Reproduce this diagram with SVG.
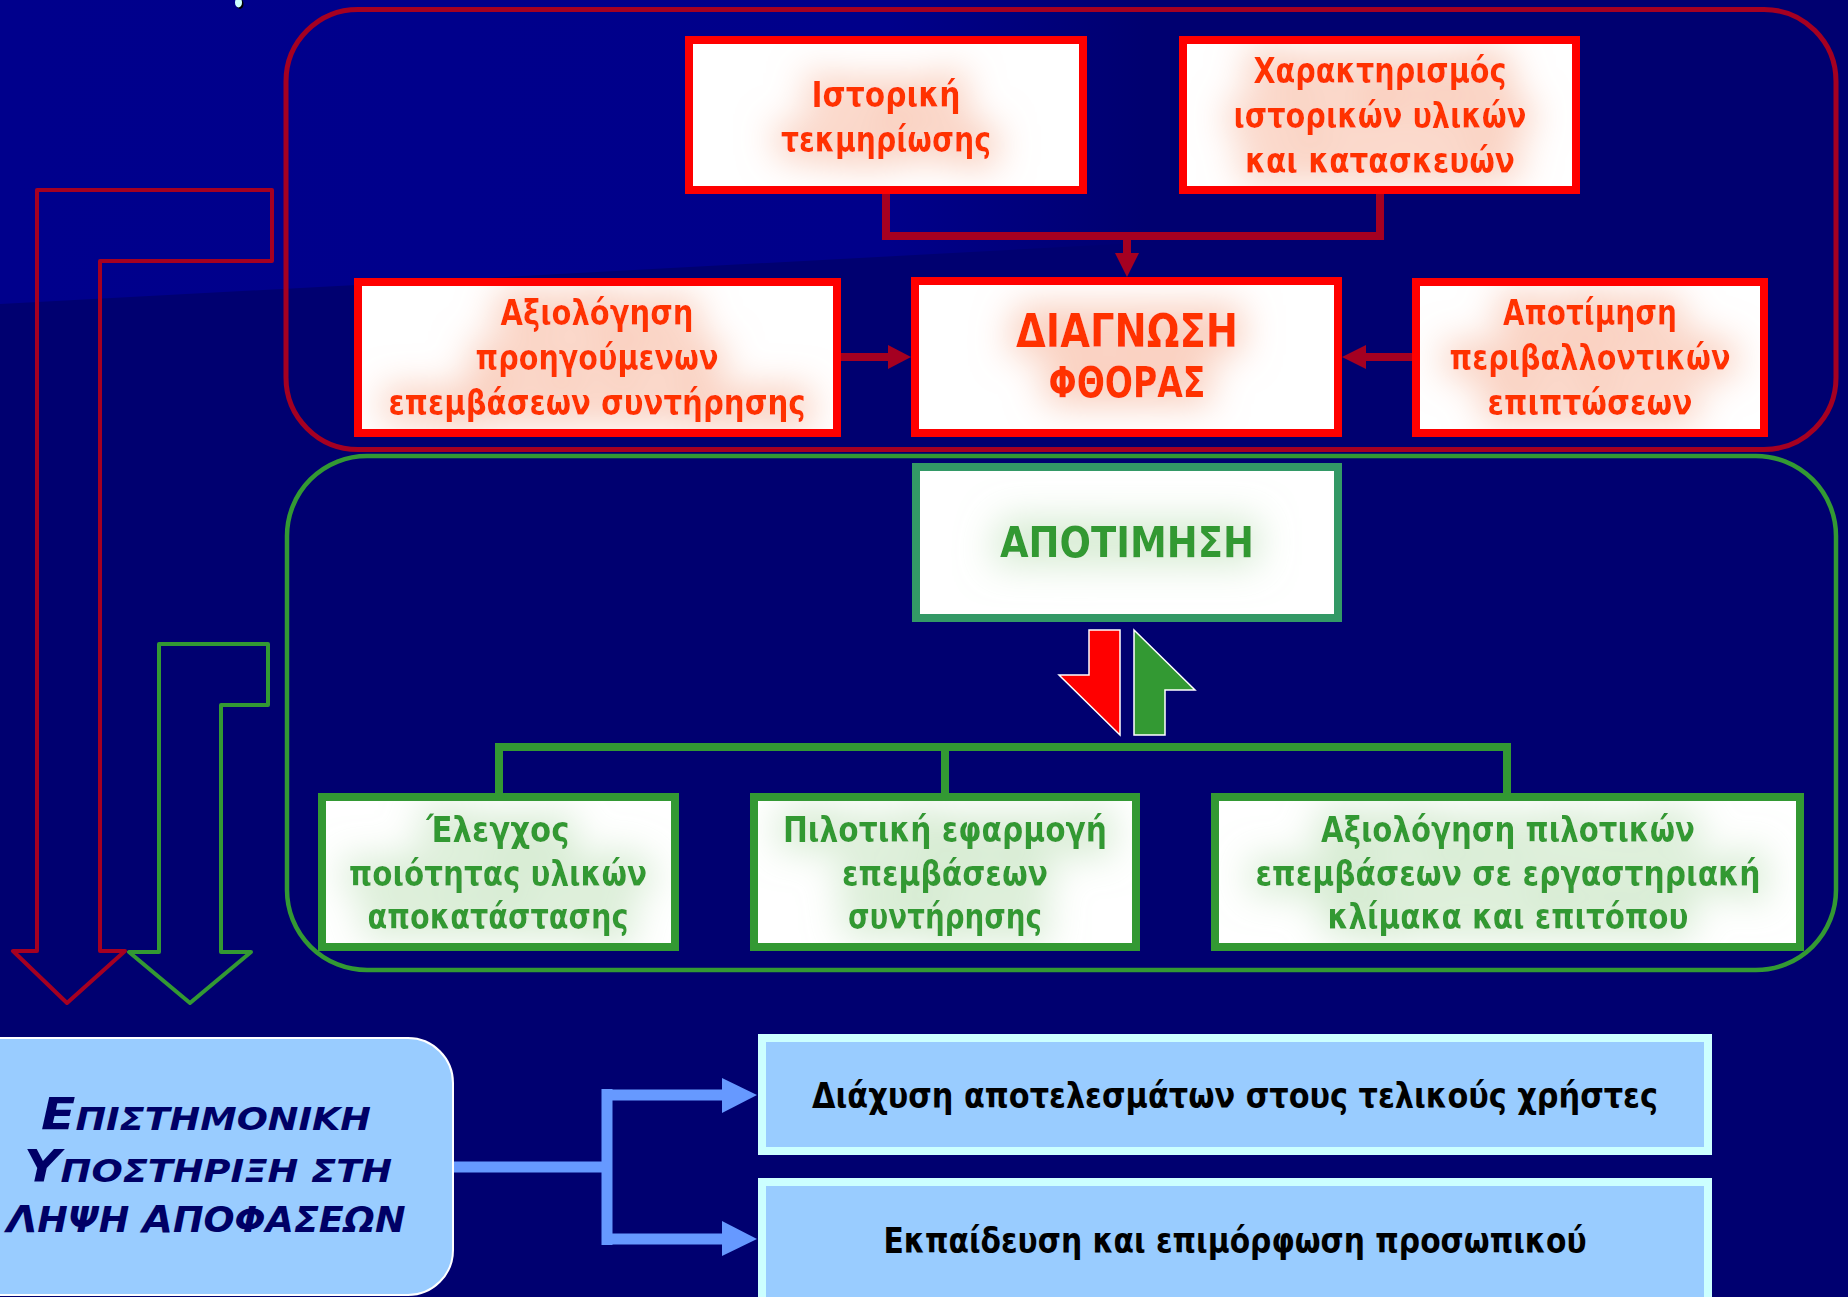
<svg xmlns="http://www.w3.org/2000/svg" width="1848" height="1297" viewBox="0 0 1848 1297">
<defs>
<linearGradient id="bgTop" x1="0" y1="0" x2="1848" y2="0" gradientUnits="userSpaceOnUse">
<stop offset="0" stop-color="#00008C"/>
<stop offset="0.48" stop-color="#00008A"/>
<stop offset="0.62" stop-color="#000070"/>
</linearGradient>
<filter id="haloR" x="-30%" y="-100%" width="160%" height="300%">
<feMorphology in="SourceAlpha" operator="dilate" radius="8" result="d"/>
<feGaussianBlur in="d" stdDeviation="18" result="b"/>
<feFlood flood-color="#F8C3AE" flood-opacity="0.8"/>
<feComposite in2="b" operator="in" result="g"/>
<feMerge><feMergeNode in="g"/><feMergeNode in="SourceGraphic"/></feMerge>
</filter>
<filter id="haloG" x="-30%" y="-100%" width="160%" height="300%">
<feMorphology in="SourceAlpha" operator="dilate" radius="8" result="d"/>
<feGaussianBlur in="d" stdDeviation="18" result="b"/>
<feFlood flood-color="#CDE7C8" flood-opacity="0.8"/>
<feComposite in2="b" operator="in" result="g"/>
<feMerge><feMergeNode in="g"/><feMergeNode in="SourceGraphic"/></feMerge>
</filter>
<clipPath id="cA"><rect x="693" y="44" width="386" height="142"/></clipPath>
<clipPath id="cB"><rect x="1187" y="44" width="385" height="142"/></clipPath>
<clipPath id="cC"><rect x="919" y="285" width="415" height="144"/></clipPath>
<clipPath id="cD"><rect x="362" y="286" width="471" height="143"/></clipPath>
<clipPath id="cE"><rect x="1420" y="286" width="340" height="143"/></clipPath>
<clipPath id="cP"><rect x="920" y="471" width="414" height="143"/></clipPath>
<clipPath id="cF"><rect x="326" y="801" width="345" height="142"/></clipPath>
<clipPath id="cG"><rect x="758" y="801" width="374" height="142"/></clipPath>
<clipPath id="cH"><rect x="1219" y="801" width="577" height="142"/></clipPath>
<style>
.rbox{fill:#FFFFFF;stroke:#FF0000;stroke-width:8}
.gbox{fill:#FFFFFF;stroke:#339933;stroke-width:8}
.bbox{fill:#99CCFF;stroke:#CCFFFF;stroke-width:8}
.t{font-family:"DejaVu Sans","Liberation Sans",sans-serif;font-weight:bold;font-stretch:condensed;text-anchor:middle}
.tr{fill:#FF3300;font-size:35px}
.tg{fill:#339933;font-size:35px}
.tk{fill:#000000;font-size:36px}
.tn{fill:#000066;font-style:italic}
.redc{fill:none;stroke:#A50021;stroke-width:8}
.grnc{fill:none;stroke:#339933;stroke-width:8}
.bluc{fill:none;stroke:#6699FF;stroke-width:11}
</style>
</defs>

<!-- background -->
<rect x="0" y="0" width="1848" height="1297" fill="#000070"/>
<polygon points="0,0 1848,0 1848,205 0,304" fill="url(#bgTop)"/>
<ellipse cx="240" cy="4" rx="3.5" ry="5" fill="#000000"/>
<ellipse cx="238.5" cy="2.5" rx="3.5" ry="5" fill="#CCFFFF"/>

<!-- containers -->
<g id="container-red">
<rect x="286" y="9.5" width="1550" height="440" rx="72" ry="72" fill="none" stroke="#A50021" stroke-width="5"/>
</g>
<g id="container-green">
<rect x="287" y="456" width="1549" height="514" rx="80" ry="80" fill="none" stroke="#339933" stroke-width="4.5"/>
</g>

<!-- connectors -->
<g id="connectors">
<path class="redc" d="M886,194 V236 H1380 V194"/>
<path class="redc" d="M1127,236 V255"/>
<polygon points="1115,253 1139,253 1127,277" fill="#A50021"/>
<path class="redc" d="M841,357 H890"/>
<polygon points="888,345 911,357 888,369" fill="#A50021"/>
<path class="redc" d="M1412,357 H1364"/>
<polygon points="1366,345 1342,357 1366,369" fill="#A50021"/>
<path class="grnc" d="M499,793 V747 H1507 V793 M945,747 V793"/>
<polygon points="1089,630 1120,630 1120,735 1059,675 1089,675" fill="#FF0000" stroke="#FFFFFF" stroke-width="1.5"/>
<polygon points="1134,630 1195,690 1165,690 1165,735 1134,735" fill="#339933" stroke="#FFFFFF" stroke-width="1.5"/>
<path d="M37,190 H272 V261 H100 V951 H125 L67,1003 L13,951 H37 Z" fill="none" stroke="#A50021" stroke-width="4" stroke-linejoin="round"/>
<path d="M159,644 H268 V705 H221 V952 H251 L190,1003 L129,952 H159 Z" fill="none" stroke="#339933" stroke-width="4" stroke-linejoin="round"/>
<path class="bluc" d="M453,1167 H607 M607,1089 V1245 M602,1095 H724 M602,1239 H724"/>
<polygon points="722,1078 757,1095 722,1113" fill="#6699FF"/>
<polygon points="722,1221 757,1239 722,1256" fill="#6699FF"/>
</g>

<!-- nodes -->
<g id="node-istoriki">
<rect class="rbox" x="689" y="40" width="394" height="150"/>
<g filter="url(#haloR)" clip-path="url(#cA)">
<text class="t tr" x="886" y="107" textLength="149" lengthAdjust="spacingAndGlyphs">Ιστορική</text>
<text class="t tr" x="886" y="152" textLength="210" lengthAdjust="spacingAndGlyphs">τεκμηρίωσης</text>
</g>
</g>

<g id="node-xaraktirismos">
<rect class="rbox" x="1183" y="40" width="393" height="150"/>
<g filter="url(#haloR)" clip-path="url(#cB)">
<text class="t tr" x="1380" y="83" textLength="253" lengthAdjust="spacingAndGlyphs">Χαρακτηρισμός</text>
<text class="t tr" x="1380" y="128" textLength="293" lengthAdjust="spacingAndGlyphs">ιστορικών υλικών</text>
<text class="t tr" x="1380" y="173" textLength="270" lengthAdjust="spacingAndGlyphs">και κατασκευών</text>
</g>
</g>

<g id="node-diagnosi">
<rect class="rbox" x="915" y="281" width="423" height="152"/>
<g filter="url(#haloR)" clip-path="url(#cC)">
<text class="t tr" x="1127" y="347" style="font-size:46px" textLength="222" lengthAdjust="spacingAndGlyphs">ΔΙΑΓΝΩΣΗ</text>
<text class="t tr" x="1127" y="397" style="font-size:42px" textLength="157" lengthAdjust="spacingAndGlyphs">ΦΘΟΡΑΣ</text>
</g>
</g>

<g id="node-axiologisi-proigoumenon">
<rect class="rbox" x="358" y="282" width="479" height="151"/>
<g filter="url(#haloR)" clip-path="url(#cD)">
<text class="t tr" x="597" y="325" textLength="193" lengthAdjust="spacingAndGlyphs">Αξιολόγηση</text>
<text class="t tr" x="597" y="370" textLength="243" lengthAdjust="spacingAndGlyphs">προηγούμενων</text>
<text class="t tr" x="597" y="415" textLength="417" lengthAdjust="spacingAndGlyphs">επεμβάσεων συντήρησης</text>
</g>
</g>

<g id="node-apotimisi-perivallontikon">
<rect class="rbox" x="1416" y="282" width="348" height="151"/>
<g filter="url(#haloR)" clip-path="url(#cE)">
<text class="t tr" x="1590" y="325" textLength="174" lengthAdjust="spacingAndGlyphs">Αποτίμηση</text>
<text class="t tr" x="1590" y="370" textLength="281" lengthAdjust="spacingAndGlyphs">περιβαλλοντικών</text>
<text class="t tr" x="1590" y="415" textLength="205" lengthAdjust="spacingAndGlyphs">επιπτώσεων</text>
</g>
</g>

<g id="node-apotimisi">
<rect x="916" y="467" width="422" height="151" fill="#FFFFFF" stroke="#339966" stroke-width="8"/>
<g filter="url(#haloG)" clip-path="url(#cP)">
<text class="t tg" x="1127" y="557" style="font-size:42px" textLength="254" lengthAdjust="spacingAndGlyphs">ΑΠΟΤΙΜΗΣΗ</text>
</g>
</g>

<g id="node-elegxos">
<rect class="gbox" x="322" y="797" width="353" height="150"/>
<g filter="url(#haloG)" clip-path="url(#cF)">
<text class="t tg" x="498" y="842" textLength="143" lengthAdjust="spacingAndGlyphs">Έλεγχος</text>
<text class="t tg" x="498" y="886" textLength="298" lengthAdjust="spacingAndGlyphs">ποιότητας υλικών</text>
<text class="t tg" x="498" y="929" textLength="261" lengthAdjust="spacingAndGlyphs">αποκατάστασης</text>
</g>
</g>

<g id="node-pilotiki">
<rect class="gbox" x="754" y="797" width="382" height="150"/>
<g filter="url(#haloG)" clip-path="url(#cG)">
<text class="t tg" x="945" y="842" textLength="324" lengthAdjust="spacingAndGlyphs">Πιλοτική εφαρμογή</text>
<text class="t tg" x="945" y="886" textLength="206" lengthAdjust="spacingAndGlyphs">επεμβάσεων</text>
<text class="t tg" x="945" y="929" textLength="194" lengthAdjust="spacingAndGlyphs">συντήρησης</text>
</g>
</g>

<g id="node-axiologisi-pilotikon">
<rect class="gbox" x="1215" y="797" width="585" height="150"/>
<g filter="url(#haloG)" clip-path="url(#cH)">
<text class="t tg" x="1508" y="842" textLength="374" lengthAdjust="spacingAndGlyphs">Αξιολόγηση πιλοτικών</text>
<text class="t tg" x="1508" y="886" textLength="505" lengthAdjust="spacingAndGlyphs">επεμβάσεων σε εργαστηριακή</text>
<text class="t tg" x="1508" y="929" textLength="361" lengthAdjust="spacingAndGlyphs">κλίμακα και επιτόπου</text>
</g>
</g>

<g id="node-epistimoniki">
<rect x="-60" y="1038" width="513" height="257" rx="45" ry="45" fill="#99CCFF" stroke="#FFFFFF" stroke-width="2"/>
<text class="t tn" x="206" y="1130" textLength="330" lengthAdjust="spacingAndGlyphs"><tspan style="font-size:44px">Ε</tspan><tspan style="font-size:32px">ΠΙΣΤΗΜΟΝΙΚΗ</tspan></text>
<text class="t tn" x="208" y="1182" textLength="368" lengthAdjust="spacingAndGlyphs"><tspan style="font-size:44px">Υ</tspan><tspan style="font-size:32px">ΠΟΣΤΗΡΙΞΗ ΣΤΗ</tspan></text>
<text class="t tn" x="206" y="1232" textLength="399" lengthAdjust="spacingAndGlyphs"><tspan style="font-size:38px">Λ</tspan><tspan style="font-size:35px">ΗΨΗ </tspan><tspan style="font-size:38px">Α</tspan><tspan style="font-size:35px">ΠΟΦΑΣΕΩΝ</tspan></text>
</g>

<g id="node-diaxysi">
<rect class="bbox" x="762" y="1038" width="946" height="113"/>
<text class="t tk" x="1235" y="1108" textLength="846" lengthAdjust="spacingAndGlyphs">Διάχυση αποτελεσμάτων στους τελικούς χρήστες</text>
</g>

<g id="node-ekpaideusi">
<rect class="bbox" x="762" y="1182" width="946" height="130"/>
<text class="t tk" x="1235" y="1253" textLength="703" lengthAdjust="spacingAndGlyphs">Εκπαίδευση και επιμόρφωση προσωπικού</text>
</g>
</svg>
